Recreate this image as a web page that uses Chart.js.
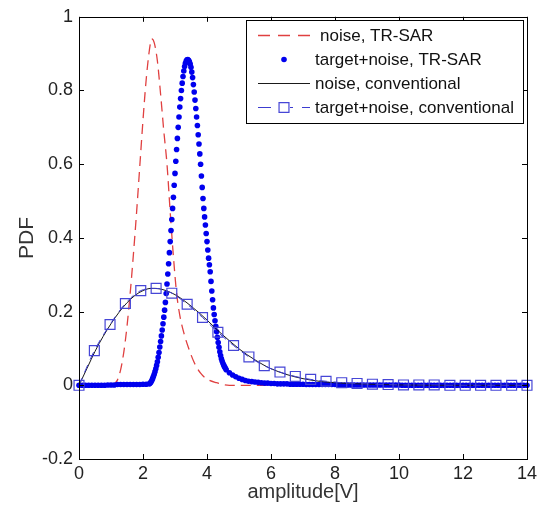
<!DOCTYPE html>
<html>
<head>
<meta charset="utf-8">
<script src="https://cdn.jsdelivr.net/npm/chart.js@4.4.1/dist/chart.umd.min.js"></script>
<style>
  html, body { margin: 0; padding: 0; background: #fff; }
  #wrap { width: 548px; height: 515px; }
</style>
</head>
<body>
<div id="wrap"><canvas id="pdf" width="548" height="515"></canvas></div>
<script>
// axis ticks
const xTickVals = [0, 2, 4, 6, 8, 10, 12, 14];
const yTickVals = [-0.2, 0, 0.2, 0.4, 0.6, 0.8, 1];

// noise, TR-SAR (red dashed)
const noiseTrX = [0, 0.9, 1.1, 1.2, 1.3, 1.4, 1.5, 1.6, 1.7, 1.8, 1.9, 2.0, 2.1, 2.2, 2.27, 2.35, 2.45, 2.55, 2.65, 2.75,
  2.85, 2.95, 3.05, 3.15, 3.3, 3.45, 3.6, 3.8, 4.0, 4.3, 4.7, 14];
const noiseTrY = [0, 0, 0.004, 0.014, 0.042, 0.09, 0.16, 0.25, 0.355, 0.47, 0.595, 0.72, 0.83, 0.91, 0.94, 0.93, 0.88, 0.79, 0.69, 0.6,
  0.47, 0.35, 0.25, 0.19, 0.135, 0.095, 0.062, 0.033, 0.017, 0.007, 0, 0];

// target+noise, TR-SAR (blue dots), sampled in three pieces
const tgtTrLeftStart = 0, tgtTrLeftStep = 0.1;
const tgtTrLeftY = [0, 0, 0, 0, 0, 0, 0, 0, 0, 0.001, 0.001, 0.001, 0.002, 0.002, 0.002, 0.002, 0.002, 0.002, 0.002, 0.002, 0.003, 0.003];
const tgtTrPeakStart = 2.2, tgtTrPeakStep = 0.025;
const tgtTrPeakY = [
  0.004, 0.006, 0.009, 0.013, 0.018, 0.024, 0.030, 0.037,
  0.045, 0.054, 0.064, 0.076, 0.089, 0.104, 0.119, 0.134,
  0.150, 0.167, 0.185, 0.204, 0.225, 0.249, 0.275, 0.302,
  0.330, 0.360, 0.390, 0.420, 0.450, 0.480, 0.510, 0.543,
  0.575, 0.608, 0.640, 0.670, 0.700, 0.728, 0.755, 0.778,
  0.800, 0.820, 0.838, 0.853, 0.865, 0.874, 0.880, 0.883,
  0.884, 0.882, 0.878, 0.872, 0.863, 0.850, 0.835, 0.816,
  0.796, 0.774, 0.751, 0.728, 0.705, 0.680, 0.655, 0.628,
  0.600, 0.568, 0.537, 0.507, 0.480, 0.457, 0.435, 0.412,
  0.390, 0.367, 0.345, 0.327, 0.308, 0.282, 0.256, 0.232,
  0.210, 0.192, 0.175, 0.160, 0.145, 0.130, 0.116, 0.103,
  0.091, 0.081, 0.072, 0.065, 0.059, 0.054, 0.050, 0.046,
  0.042];
const tgtTrTailStart = 4.7, tgtTrTailStep = 0.1;
const tgtTrTailY = [
  0.034, 0.028, 0.023, 0.019, 0.016, 0.013, 0.011, 0.010,
  0.009, 0.008, 0.007, 0.006, 0.006, 0.005, 0.005, 0.004,
  0.004, 0.004, 0.004, 0.003, 0.003, 0.003, 0.003, 0.003,
  0.002, 0.002, 0.002, 0.002, 0.002, 0.002, 0.002, 0.002,
  0.002, 0.002, 0.001, 0.001, 0.001, 0.001, 0.001, 0.001,
  0.001, 0.001, 0.001, 0.001, 0.001, 0.001, 0.001, 0.001,
  0.001, 0.001, 0.001, 0.001, 0.001, 0.001, 0, 0,
  0, 0, 0, 0, 0, 0, 0, 0,
  0, 0, 0, 0, 0, 0, 0, 0,
  0, 0, 0, 0, 0, 0, 0, 0,
  0, 0, 0, 0, 0, 0, 0, 0,
  0, 0, 0, 0, 0, 0];

// noise, conventional (black solid)
const noiseConvX = [0, 0.25, 0.5, 0.75, 1, 1.25, 1.5, 1.75, 2, 2.25, 2.5, 2.75, 3, 3.25, 3.5, 3.75, 4, 4.25, 4.5, 4.75,
  5, 5.25, 5.5, 5.75, 6, 6.5, 7, 7.5, 8, 9, 10, 11, 14];
const noiseConvY = [0, 0.046, 0.092, 0.132, 0.167, 0.198, 0.224, 0.244, 0.257, 0.263, 0.262, 0.256, 0.246, 0.232, 0.215, 0.197, 0.177, 0.156, 0.136, 0.117,
  0.099, 0.083, 0.069, 0.056, 0.045, 0.029, 0.018, 0.011, 0.007, 0.003, 0.001, 0, 0];

// target+noise, conventional (blue dashed with squares)
const tgtConvX = [0, 0.48, 0.97, 1.45, 1.93, 2.41, 2.90, 3.38, 3.86, 4.34, 4.83, 5.31, 5.79, 6.28, 6.76,
  7.24, 7.72, 8.21, 8.69, 9.17, 9.66, 10.14, 10.62, 11.10, 11.59, 12.07, 12.55, 13.03, 13.52, 14.0];
const tgtConvY = [0, 0.094, 0.165, 0.222, 0.257, 0.263, 0.250, 0.220, 0.184, 0.144, 0.108, 0.077, 0.053, 0.036, 0.024,
  0.016, 0.011, 0.007, 0.005, 0.003, 0.002, 0.001, 0.001, 0.001, 0, 0, 0, 0, 0, 0];

function seg(x0, dx, ys) {
  return ys.map((y, i) => ({ x: +(x0 + i * dx).toFixed(3), y }));
}
function pairs(xs, ys) {
  return xs.map((x, i) => ({ x, y: ys[i] }));
}

const FONT = "'Liberation Sans', Arial, Helvetica, sans-serif";

const legendBox = { x: 246, y: 20, w: 277, h: 103, rows: [35, 59, 83, 107], textX: [320, 315, 315, 315], x0: 258, x1: 310 };

const framePlugin = {
  id: "frame",
  afterDatasetsDraw(chart) {
    const { ctx, chartArea: a, scales } = chart;
    ctx.save();
    ctx.strokeStyle = "#000";
    ctx.lineWidth = 1;
    ctx.setLineDash([]);
    ctx.strokeRect(Math.round(a.left) + 0.5, Math.round(a.top) + 0.5, Math.round(a.right - a.left), Math.round(a.bottom - a.top));
    ctx.beginPath();
    xTickVals.forEach((v) => {
      const px = Math.round(scales.x.getPixelForValue(v)) + 0.5;
      ctx.moveTo(px, a.bottom); ctx.lineTo(px, a.bottom - 5);
      ctx.moveTo(px, a.top); ctx.lineTo(px, a.top + 5);
    });
    yTickVals.forEach((v) => {
      const py = Math.round(scales.y.getPixelForValue(v)) + 0.5;
      ctx.moveTo(a.left, py); ctx.lineTo(a.left + 5, py);
      ctx.moveTo(a.right, py); ctx.lineTo(a.right - 5, py);
    });
    ctx.stroke();

    // legend
    const L = legendBox;
    ctx.fillStyle = "#fff";
    ctx.fillRect(L.x, L.y, L.w, L.h);
    ctx.strokeStyle = "#000";
    ctx.strokeRect(L.x + 0.5, L.y + 0.5, L.w, L.h);
    ctx.font = "17px " + FONT;
    ctx.textBaseline = "middle";
    const mid = (L.x0 + L.x1) / 2;
    chart.data.datasets.forEach((ds, i) => {
      const ry = L.rows[i] + 0.5;
      if (ds.showLine !== false) {
        ctx.beginPath();
        ctx.strokeStyle = ds.borderColor;
        ctx.lineWidth = ds.borderWidth;
        ctx.setLineDash(ds.legendDash || ds.borderDash || []);
        ctx.moveTo(L.x0, ry); ctx.lineTo(L.x1, ry);
        ctx.stroke();
        ctx.setLineDash([]);
      }
      if (ds.pointRadius > 0) {
        ctx.fillStyle = ds.pointBackgroundColor;
        ctx.strokeStyle = ds.pointBorderColor;
        ctx.lineWidth = ds.pointBorderWidth || 1;
        if (ds.pointStyle === "rect") {
          ctx.fillStyle = "#fff";
          ctx.fillRect(mid - 6, ry - 6, 12, 12);
        }
        Chart.helpers.drawPoint(ctx, {
          pointStyle: ds.pointStyle, radius: ds.pointRadius, borderWidth: ds.pointBorderWidth || 0, rotation: 0
        }, mid, ry);
      }
      ctx.fillStyle = "#111";
      ctx.fillText(ds.label, L.textX[i], L.rows[i] + 1);
    });
    ctx.restore();
  }
};

new Chart(document.getElementById("pdf"), {
  type: "scatter",
  data: {
    datasets: [
      {
        label: "noise, TR-SAR",
        data: pairs(noiseTrX, noiseTrY),
        showLine: true,
        borderColor: "#e04040",
        borderWidth: 1.3,
        borderDash: [10, 6],
        legendDash: [12, 8],
        pointRadius: 0,
        cubicInterpolationMode: "monotone",
        order: 4,
      },
      {
        label: "target+noise, TR-SAR",
        data: seg(tgtTrLeftStart, tgtTrLeftStep, tgtTrLeftY)
          .concat(seg(tgtTrPeakStart, tgtTrPeakStep, tgtTrPeakY))
          .concat(seg(tgtTrTailStart, tgtTrTailStep, tgtTrTailY)),
        showLine: false,
        pointStyle: "circle",
        pointRadius: 2.8,
        pointBorderWidth: 0,
        pointBackgroundColor: "#0000ee",
        pointBorderColor: "#0000ee",
        clip: false,
        order: 3,
      },
      {
        label: "noise, conventional",
        data: pairs(noiseConvX, noiseConvY),
        showLine: true,
        borderColor: "#1a1a1a",
        borderWidth: 1,
        pointRadius: 0,
        cubicInterpolationMode: "monotone",
        order: 2,
      },
      {
        label: "target+noise, conventional",
        data: pairs(tgtConvX, tgtConvY),
        showLine: true,
        borderColor: "#3c3cd0",
        borderWidth: 1,
        borderDash: [8, 6],
        legendDash: [13, 9],
        pointStyle: "rect",
        pointRadius: 7,
        pointBorderWidth: 1.2,
        pointBackgroundColor: "rgba(0,0,0,0)",
        pointBorderColor: "#4646d6",
        cubicInterpolationMode: "monotone",
        clip: false,
        order: 1,
      },
    ],
  },
  options: {
    responsive: false,
    animation: false,
    devicePixelRatio: 1,
    layout: { padding: { left: 0, right: 21, top: 11, bottom: 0 } },
    plugins: {
      legend: { display: false },
      tooltip: { enabled: false },
    },
    scales: {
      x: {
        type: "linear",
        min: 0,
        max: 14,
        afterBuildTicks: (s) => { s.ticks = xTickVals.map((v) => ({ value: v })); },
        afterFit: (s) => { s.height = 56; },
        ticks: { color: "#222", font: { family: FONT, size: 18 }, padding: 4, maxRotation: 0 },
        grid: { display: false, drawTicks: false },
        border: { display: false },
        title: { display: true, text: "amplitude[V]", color: "#333", font: { family: FONT, size: 20 }, padding: { top: 11, bottom: 11 } },
      },
      y: {
        type: "linear",
        min: -0.2,
        max: 1,
        afterBuildTicks: (s) => { s.ticks = yTickVals.map((v) => ({ value: v })); },
        afterFit: (s) => { s.width = 79; },
        ticks: {
          color: "#222",
          font: { family: FONT, size: 18 },
          padding: 6,
          callback: (v) => String(Number(v.toFixed(1))),
        },
        grid: { display: false, drawTicks: false },
        border: { display: false },
        title: { display: true, text: "PDF", color: "#333", font: { family: FONT, size: 21 }, padding: { top: 15, bottom: 15 } },
      },
    },
  },
  plugins: [framePlugin],
});
</script>
</body>
</html>
